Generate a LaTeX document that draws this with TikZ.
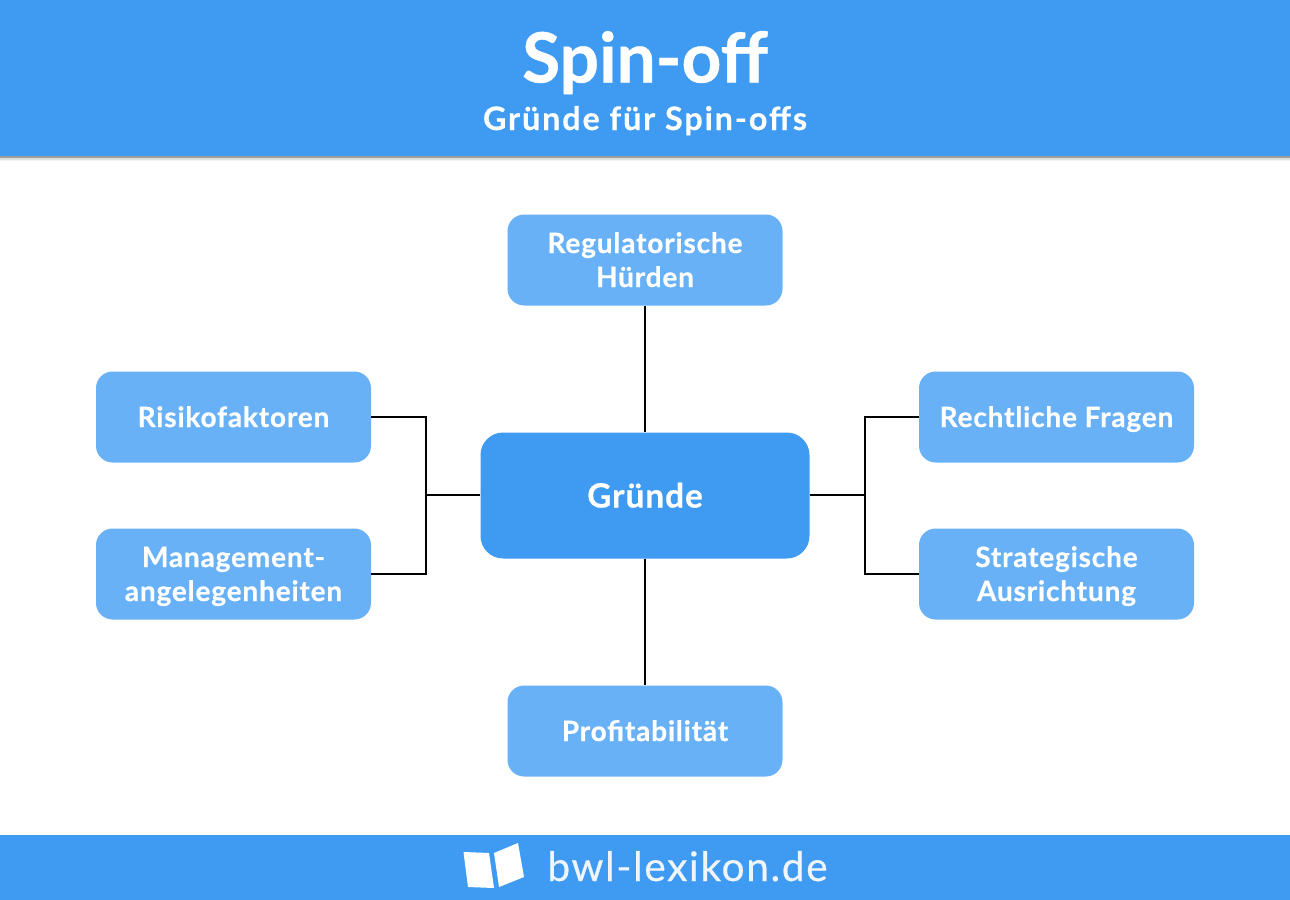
\documentclass[tikz,border=0pt]{standalone}
\usepackage{fontspec}
\setmainfont{Lato}[BoldFont={Lato Bold},BoldFeatures={FakeBold=0.6},LetterSpace=3]
\newfontfamily\titlefont{Lato Bold}[FakeBold=0.6]
\newfontfamily\subfont{Lato Bold}[LetterSpace=6,FakeBold=0.4]
\newfontfamily\brandfont{Lato}[LetterSpace=4,FakeBold=0.5]
\definecolor{mainblue}{HTML}{3F9BF2}
\definecolor{lightblue}{HTML}{68B1F6}
\definecolor{brandwhite}{HTML}{F0F5FB}
\tikzset{
  x=0.75pt,y=-0.75pt,
  box/.style={fill=lightblue,rounded corners=12.5pt,minimum width=206.25pt,minimum height=68.25pt,inner sep=0pt,align=center,text=white,font=\fontsize{21}{25.5}\selectfont\bfseries,text height=15pt,text depth=0pt},
  boxtwo/.style={box,text height=40.5pt,text depth=0pt},
  centerbox/.style={fill=mainblue,rounded corners=17pt,minimum width=246.75pt,minimum height=94.5pt,inner sep=0pt,text=white,font=\fontsize{25}{30}\selectfont\bfseries,text height=18pt,text depth=0pt},
  link/.style={draw=black,line width=1.5pt,line join=miter},
  band/.style={fill=mainblue,draw=none},
}
\begin{document}
\begin{tikzpicture}
\useasboundingbox (0,0) rectangle (1290,900);
\fill[white] (0,0) rectangle (1290,900);
% header with soft shadow
\fill[black!5] (0,156) rectangle (1290,161);
\fill[black!12] (0,156) rectangle (1290,159.5);
\fill[black!38] (0,156) rectangle (1290,158);
\path[band] (0,0) rectangle (1290,156);
\path[band] (0,835) rectangle (1290,900);
\node[text=white,inner sep=0pt,anchor=base,font=\titlefont\fontsize{52}{52}\selectfont] (title) at (645,82.5) {Spin-off};
\node[text=white,inner sep=0pt,anchor=base,font=\subfont\fontsize{24.2}{30}\selectfont] (subtitle) at (645,130) {Gründe für Spin-offs};
% nodes
\node[centerbox] (c) at (645,495.5) {Gründe};
\node[boxtwo] (top) at (645,260) {Regulatorische\\Hürden};
\node[box] (bottom) at (645,731) {Profitabilität};
\node[box] (l1) at (233.5,417) {Risikofaktoren};
\node[boxtwo] (l2) at (233.5,574) {Management-\\angelegenheiten};
\node[box] (r1) at (1056.5,417) {Rechtliche Fragen};
\node[boxtwo] (r2) at (1056.5,574) {Strategische\\Ausrichtung};
\coordinate (jl) at (425.5,495);
\coordinate (jr) at (864.5,495);
% connectors
\draw[link] (top.south) -- (c.north);
\draw[link] (c.south) -- (bottom.north);
\draw[link] (c.west |- jl) -- (jl);
\draw[link] (c.east |- jr) -- (jr);
\draw[link] (l1.east) -| (jl);
\draw[link] (l2.east) -| (jl);
\draw[link] (r1.west) -| (jr);
\draw[link] (r2.west) -| (jr);
% logo
\fill[white] (463.5,852) -- (489,853) -- (494,888) -- (468,887) -- cycle;
\fill[white] (494,853) -- (518,843) -- (524,877) -- (499,887) -- cycle;
\node[text=brandwhite,inner sep=0pt,anchor=base,font=\brandfont\fontsize{30.5}{36}\selectfont] (brand) at (687.5,881) {bwl-lexikon.de};
\end{tikzpicture}
\end{document}
